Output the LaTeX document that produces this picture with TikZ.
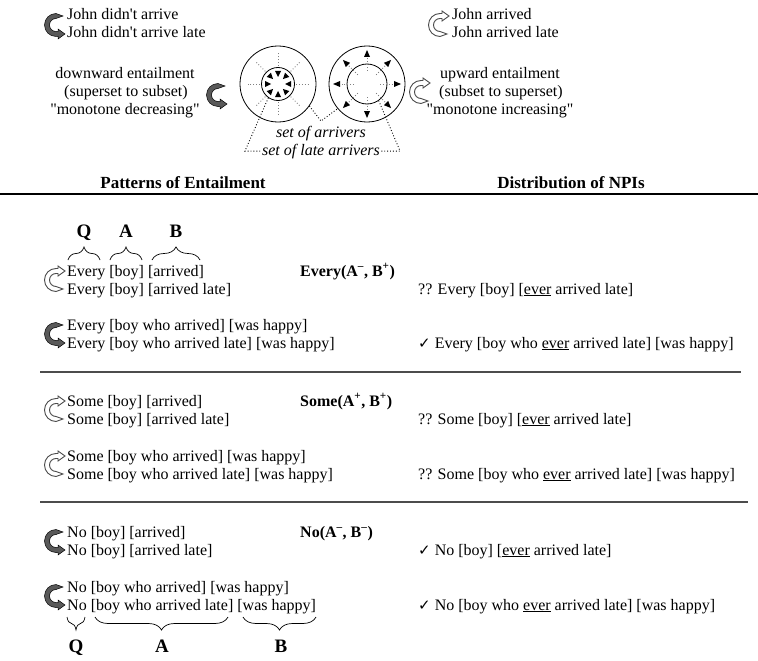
\documentclass[tikz,border=0pt]{standalone}
\usepackage{fontspec}
\setmainfont{Liberation Serif}[Ligatures=TeXOff]
\newfontfamily\checkfont{DejaVu Sans}
\usetikzlibrary{decorations.pathreplacing}

\newcommand\ck{{\checkfont\fontsize{15}{15}\selectfont ✓}}
\newcommand\ev{\underline{ever}}

\tikzset{
  txt/.style={anchor=base west, inner sep=0pt},
  mid/.style={anchor=base, inner sep=0pt},
  head/.style={anchor=base, inner sep=0pt, font=\fontsize{17}{20}\selectfont\bfseries},
  letter/.style={anchor=base, inner sep=0pt, font=\fontsize{19}{20}\selectfont\bfseries},
  brc/.style={decorate, decoration={brace, amplitude=13pt}, line width=0.7pt},
  ring/.style={circle, draw, line width=0.8pt, inner sep=0pt, minimum size=#1},
  dots/.style={dotted, line width=0.9pt},
  rule/.style={line width=1.2pt, black!70},
  darkturn/.style={fill=black!65, draw=black, line width=0.5pt},
  lightturn/.style={fill=white, draw=black!70, line width=0.9pt},
}

% curved arrow: #1 centre, #2 style, #3 1 = downward, -1 = upward
\newcommand\turn[3]{%
  \begin{scope}[shift={#1}, yscale=#3]
    \path[#2] (7,-9) -- (0,-11.5) arc[start angle=270, end angle=90, radius=11.5]
      -- (2,11.5) -- (2,14) -- (9,9) -- (2,4) -- (2,6.5) -- (0,6.5)
      arc[start angle=90, end angle=270, radius=6.5] -- cycle;
  \end{scope}}

\begin{document}
\begin{tikzpicture}[x=1pt, y=-1pt, font=\fontsize{16}{18}\selectfont]
\useasboundingbox (0,0) rectangle (758,661);

% downward / upward sketch
\turn{(56,25)}{darkturn}{1}
\node[txt] (jd1) at (67,20) {John didn't arrive};
\node[txt] (jd2) at (67,38) {John didn't arrive late};
\node[mid] (down1) at (125,78) {downward entailment};
\node[mid] (down2) at (126,96) {(superset to subset)};
\node[mid] (down3) at (125,114) {"monotone decreasing"};
\turn{(218,95)}{darkturn}{1}

\turn{(440,25)}{lightturn}{-1}
\node[txt] (ja1) at (452,20) {John arrived};
\node[txt] (ja2) at (452,38) {John arrived late};
\node[mid] (up1) at (500,78) {upward entailment};
\node[mid] (up2) at (501,96) {(subset to superset)};
\node[mid] (up3) at (500,114) {"monotone increasing"};
\turn{(421,92)}{lightturn}{-1}

% the two sets
\node[ring=76pt] (outL) at (278,84) {};
\node[ring=33pt] (inL) at (278,84) {};
\node[ring=76pt] (outR) at (367,84) {};
\node[ring=40pt] (inR) at (367,84) {};
\foreach \a in {0,45,...,315} {
  \begin{scope}[shift={(278,84)}, rotate=\a]
    \draw[black!50, dotted, line width=0.9pt] (18,0) -- (31,0);
    \fill (7,0) -- (13,3) -- (13,-3) -- cycle;
  \end{scope}
  \begin{scope}[shift={(367,84)}, rotate=\a]
    \draw[black!50, dotted, line width=0.9pt] (13,0) -- (26,0);
    \fill (34,0) -- (27,3) -- (27,-3) -- cycle;
  \end{scope}
}
\node[mid, font=\fontsize{16}{18}\selectfont\itshape] (arr) at (321,137) {set of arrivers};
\node[mid, font=\fontsize{16}{18}\selectfont\itshape] (late) at (321,155) {set of late arrivers};
\coordinate (apex) at (321,121);
\draw[dots] (outL.-35) -- (apex) -- (outR.220);
\draw[dots] (inL.235) -- ([xshift=-17pt]late.west) -- (late.west);
\draw[dots] (inR.-55) -- ([xshift=20pt]late.east) -- (late.east);

% headings
\node[head] (pat) at (183,188) {Patterns of Entailment};
\node[head] (npi) at (571,188) {Distribution of NPIs};
\draw[line width=1.5pt] (0,194) -- (758,194);

% every
\draw[brc] (68,260) -- (100,260);
\draw[brc] (110,260) -- (142,260);
\draw[brc] (152,260) -- (200,260);
\node[letter] (q1) at (84,237) {Q};
\node[letter] (a1) at (126,237) {A};
\node[letter] (b1) at (176,237) {B};
\turn{(56,280)}{lightturn}{-1}
\node[txt] (e1) at (67,276) {Every [boy] [arrived]};
\node[txt] (e2) at (67,294) {Every [boy] [arrived late]};
\node[txt, font=\fontsize{16}{18}\selectfont\bfseries] (ef) at (300,276) {Every(A\textsuperscript{–}, B\textsuperscript{+})};
\node[txt] (en1) at (418,294) {?? Every [boy] [\ev{} arrived late]};
\turn{(56,334)}{darkturn}{1}
\node[txt] (e3) at (67,330) {Every [boy who arrived] [was happy]};
\node[txt] (e4) at (67,348) {Every [boy who arrived late] [was happy]};
\node[txt] (en2) at (418,348) {\ck{} Every [boy who \ev{} arrived late] [was happy]};
\draw[rule] (40,372) -- (741,372);

% some
\turn{(56,410)}{lightturn}{-1}
\node[txt] (s1) at (67,406) {Some [boy] [arrived]};
\node[txt] (s2) at (67,424) {Some [boy] [arrived late]};
\node[txt, font=\fontsize{16}{18}\selectfont\bfseries] (sf) at (300,406) {Some(A\textsuperscript{+}, B\textsuperscript{+})};
\node[txt] (sn1) at (418,424) {?? Some [boy] [\ev{} arrived late]};
\turn{(56,465)}{lightturn}{-1}
\node[txt] (s3) at (67,461) {Some [boy who arrived] [was happy]};
\node[txt] (s4) at (67,479) {Some [boy who arrived late] [was happy]};
\node[txt] (sn2) at (418,479) {?? Some [boy who \ev{} arrived late] [was happy]};
\draw[rule] (40,502) -- (748,502);

% no
\turn{(56,541)}{darkturn}{1}
\node[txt] (n1) at (67,537) {No [boy] [arrived]};
\node[txt] (n2) at (67,555) {No [boy] [arrived late]};
\node[txt, font=\fontsize{16}{18}\selectfont\bfseries] (nf) at (300,537) {No(A\textsuperscript{–}, B\textsuperscript{–})};
\node[txt] (nn1) at (418,555) {\ck{} No [boy] [\ev{} arrived late]};
\turn{(56,596)}{darkturn}{1}
\node[txt] (n3) at (67,592) {No [boy who arrived] [was happy]};
\node[txt] (n4) at (67,610) {No [boy who arrived late] [was happy]};
\node[txt] (nn2) at (418,610) {\ck{} No [boy who \ev{} arrived late] [was happy]};
\draw[brc] (85,617) -- (67,617);
\draw[brc] (228,617) -- (95,617);
\draw[brc] (316,617) -- (243,617);
\node[letter] (q2) at (76,652) {Q};
\node[letter] (a2) at (162,652) {A};
\node[letter] (b2) at (281,652) {B};
\end{tikzpicture}
\end{document}
